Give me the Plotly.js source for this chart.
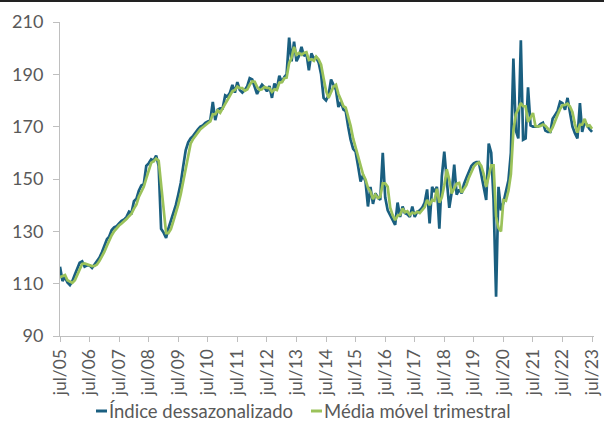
<!DOCTYPE html>
<html>
<head>
<meta charset="utf-8">
<script src="https://cdn.plot.ly/plotly-3.0.1.min.js"></script>
<style>
  html, body { margin: 0; padding: 0; background: #fff; }
  #wrap { position: relative; width: 604px; height: 423px; }
  #topbar { position: absolute; left: 0; top: 0; width: 604px; height: 2px; background: #222; z-index: 5; }
  #chart { width: 604px; height: 423px; }
</style>
</head>
<body>
<div id="wrap"><div id="topbar"></div><div id="chart"></div></div>
<script>
// Monthly series, jul/2005 .. jul/2023
const startYear = 2005, startMonth = 7;
const seriesNames = ["Índice dessazonalizado", "Média móvel trimestral"];
const indice = [
116.5,111,112.5,110.5,109.5,111,113.5,116,118,118.5,116.5,117,
117,116,117.5,118.5,120,122,124.5,127,128,130.5,131.5,132,
133,134,134.5,135.5,137.5,137,141.5,142.5,145.5,147.5,148,155,
156,157.5,157,159,155,131,129.5,127.5,131,134,136.5,140,
144,148.5,155,161,164,165.5,166.5,168,169,170,170.5,171.5,
172,172.5,179.5,172.5,176.5,177,177,182,181.5,183,186,183,
187,184,183,184,185.5,188.5,188,185,182.5,184.5,186,185,
183.5,185.5,181,186.5,184.5,189.5,187,189,190,204,195,202.5,
195,197,200.5,197,198,191.5,198,196,196.5,194.5,190,181,
180,182,188,186,184,177.5,179.5,176.5,176,170,165,161.5,
160.5,155,149,151.5,149,139.5,147,140.5,144.5,143,142,160,
143,138,136,134.5,132.5,141,135.5,139.5,137,136.5,135.5,139.5,
135.5,137.5,138,139,141,146,133,147,145,147,131,151,
160.5,149.5,139,145,155.5,144,146,144.5,148,150.5,153,155,
156,156.5,156.5,152,147,142,163.5,160,142,105,147,138,
141,146,149.5,160,196,168.5,165.5,203,165,165.5,185,170.5,
170,170,170,171,171.5,168.5,168,168,173,174.5,176,179.5,
179,176.5,181,175.5,170,167.5,165.5,179,168,172,170.5,169,
168
];
const media = [
112.5,113,113.3,111.3,110.8,110.3,111.3,113.5,115.8,117.5,117.7,117.3,
116.8,116.7,116.8,117.3,118.7,120.2,122.2,124.5,126.5,128.5,130,131.3,
132.2,133,133.8,134.7,135.8,136.7,138.7,140.3,143.2,145.2,147,150.2,
153,156.2,156.8,157.8,157,148.3,138.5,129.3,129.3,130.8,133.8,136.8,
140.2,144.2,149.2,154.8,160,163.5,165.3,166.7,167.8,169,169.8,170.7,
171.3,172,174.7,174.8,176.2,175.3,176.8,178.7,180.2,182.2,183.5,184,
185.3,184.7,184.7,183.7,184.2,186,187.3,187.2,185.2,184,184.3,185.2,
184.8,184.7,183.3,184.3,184,186.8,187,188.5,188.7,194.3,196.3,200.5,
197.5,198.2,197.5,198.2,198.5,195.5,195.8,195.2,196.8,195.7,193.7,188.5,
183.7,181,183.3,185.3,186,182.5,180.3,177.8,177.3,174.2,170.3,165.5,
162.3,159,154.8,151.8,149.8,146.7,145.2,142.3,144,142.7,143.2,148.3,
148.3,147,139,136.2,134.3,136,136.3,138.7,137.3,137.7,136.3,137.2,
136.8,137.5,137,138.2,139.3,142,140,142,141.7,146.3,141,143,
147.5,153.7,149.7,144.5,146.5,148.2,148.5,144.8,146.2,147.7,150.5,152.8,
154.7,155.8,156.3,155,151.8,147,150.8,155.2,155.2,135.7,131.3,130,
142,141.7,145.5,151.8,168.5,174.8,176.7,179,177.8,177.8,171.8,173.7,
175.2,170.2,170,170.3,170.8,170.3,169.3,168.2,169.7,171.8,174.5,176.7,
178.2,178.3,178.8,177.7,175.5,171,167.7,170.7,170.8,173,170.2,170.5,
169.2
];
const tickLabels = ["jul/05","jul/06","jul/07","jul/08","jul/09","jul/10","jul/11","jul/12","jul/13","jul/14","jul/15","jul/16","jul/17","jul/18","jul/19","jul/20","jul/21","jul/22","jul/23"];

function monthDate(k) {
  const m0 = startMonth - 1 + k;
  const y = startYear + Math.floor(m0 / 12);
  const m = (m0 % 12) + 1;
  return y + "-" + String(m).padStart(2, "0") + "-01";
}
const dates = indice.map((_, k) => monthDate(k));
const tickVals = tickLabels.map((_, k) => monthDate(k * 12));

const colBlue = "#1A5F80";
const colGreen = "#9BC25A";
const txt = "#595959";
const axc = "#BFBFBF";
const FONT = "Lato, 'Liberation Sans', sans-serif";

const traces = [
  { x: dates, y: indice, type: "scatter", mode: "lines", name: seriesNames[0],
    line: { color: colBlue, width: 2.7 }, showlegend: false, hoverinfo: "skip" },
  { x: dates, y: media, type: "scatter", mode: "lines", name: seriesNames[1],
    line: { color: colGreen, width: 2.7 }, showlegend: false, hoverinfo: "skip" }
];

// legend drawn as paper shapes + annotations (positions in paper units)
const ml = 60, mr = 10, mt = 22, mb = 87;
const pw = 604 - ml - mr, ph = 423 - mt - mb;
const px = v => (v - ml) / pw;
const py = v => (mt + ph - v) / ph;
const legY = 411;

const layout = {
  width: 604, height: 423,
  margin: { l: ml, r: mr, t: mt, b: mb },
  paper_bgcolor: "#fff", plot_bgcolor: "#fff",
  font: { family: FONT, color: txt, size: 18 },
  xaxis: {
    type: "date", range: [monthDate(0), "2023-07-25"],
    tickmode: "array", tickvals: tickVals, ticktext: tickLabels,
    tickangle: -90, ticks: "outside", ticklen: 5, tickcolor: axc,
    showline: true, linecolor: axc, linewidth: 1, showgrid: false, zeroline: false,
    tickfont: { family: FONT, size: 17.5, color: txt }, ticklabeloverflow: "allow"
  },
  yaxis: {
    range: [90, 210], tickmode: "linear", tick0: 90, dtick: 20,
    ticks: "outside", ticklen: 6, tickcolor: axc,
    showline: true, linecolor: axc, linewidth: 1, showgrid: false, zeroline: false,
    tickfont: { family: FONT, size: 18, color: txt }, ticklabelstandoff: 6
  },
  shapes: [
    { type: "line", xref: "paper", yref: "paper", x0: px(96), x1: px(107), y0: py(legY), y1: py(legY),
      line: { color: colBlue, width: 3 } },
    { type: "line", xref: "paper", yref: "paper", x0: px(311), x1: px(322), y0: py(legY), y1: py(legY),
      line: { color: colGreen, width: 3 } }
  ],
  annotations: [
    { xref: "paper", yref: "paper", x: px(107), y: py(legY), xanchor: "left", yanchor: "middle",
      text: seriesNames[0], showarrow: false, font: { family: FONT, size: 18.5, color: txt } },
    { xref: "paper", yref: "paper", x: px(322), y: py(legY), xanchor: "left", yanchor: "middle",
      text: seriesNames[1], showarrow: false, font: { family: FONT, size: 18.5, color: txt } }
  ]
};

Plotly.newPlot("chart", traces, layout, { staticPlot: true, displayModeBar: false });
</script>
</body>
</html>
